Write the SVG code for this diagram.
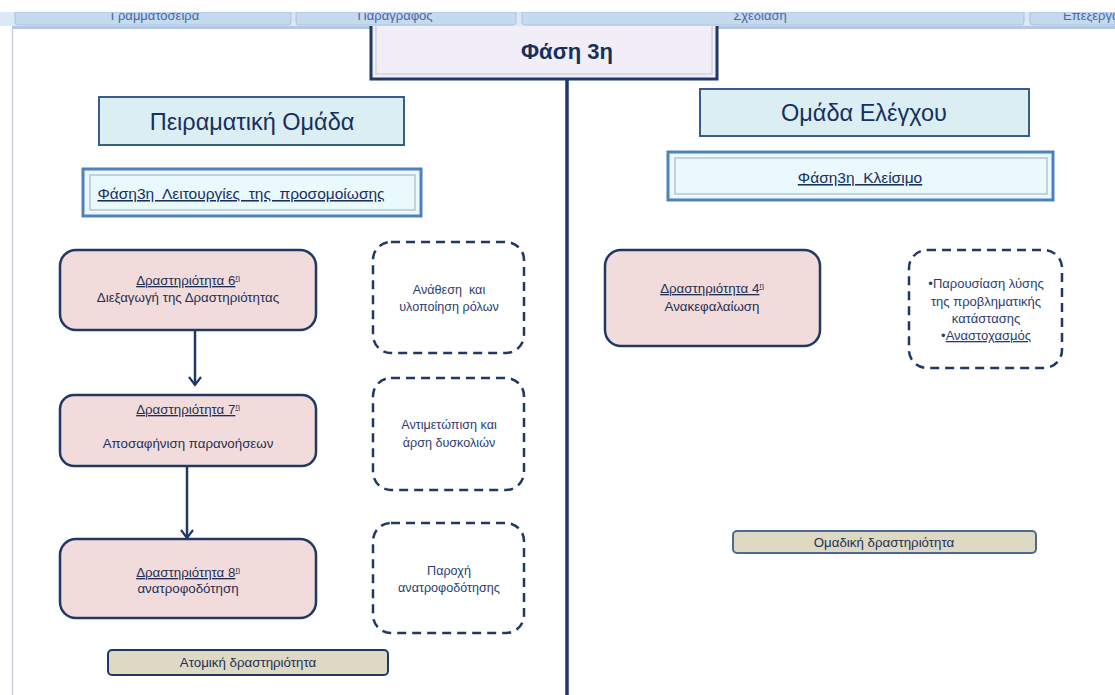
<svg xmlns="http://www.w3.org/2000/svg" width="1115" height="695" viewBox="0 0 1115 695">
<style>
text{font-family:"Liberation Sans","Noto Sans",sans-serif;text-anchor:middle;white-space:pre}
.tb{fill:#c5d9ef;stroke:#a9c2e0;stroke-width:1}
.tbt{font-size:13px;fill:#4a66a6}
.hdr{fill:#dbeef4;stroke:#385d8a;stroke-width:2}
.hdrt{font-size:23.5px;fill:#17305e}
.sub{fill:#eaf9fd;stroke:#4f81bd;stroke-width:3}
.subin{fill:none;stroke:#b8c4cc;stroke-width:1.5}
.subt{font-size:15.5px;fill:#17305e;text-decoration:underline}
.act{fill:#f2dcdb;stroke:#1f3864;stroke-width:2.5}
.actt{font-size:13.3px;fill:#1f2f55}
.u{text-decoration:underline}
.dash{fill:#fff;stroke:#1f3864;stroke-width:2.5;stroke-dasharray:9 6}
.dt{font-size:12.6px;fill:#2b3d70}
.lab{fill:#ddd9c3;stroke:#1f3864;stroke-width:2}
.labt{font-size:13.3px;fill:#1f2f55}
.conn{stroke:#1f3864;stroke-width:2.5;fill:none}
</style>
<defs>
<marker id="arr" markerWidth="12" markerHeight="14" refX="10" refY="7" orient="auto" markerUnits="userSpaceOnUse" viewBox="0 0 12 14">
<path d="M2,1 L10,7 L2,13" fill="none" stroke="#1f3864" stroke-width="2.2"/>
</marker>
<clipPath id="tbclip"><rect x="0" y="13" width="1115" height="12"/></clipPath>
</defs>
<rect width="1115" height="695" fill="#fff"/>
<line x1="12.5" y1="29" x2="12.5" y2="695" stroke="#c8cdd6" stroke-width="1.5"/>
<rect x="12" y="26" width="1103" height="3" fill="#b5c8e0"/>

<g id="title">
<rect x="371" y="20" width="346" height="59" fill="#f2eef8" stroke="#1f3864" stroke-width="3"/>
<rect x="376" y="24" width="336" height="50" fill="none" stroke="#d4d0e2" stroke-width="1.5"/>
<text x="567" y="59" style="font-size:22px;font-weight:bold;fill:#17305e">Φάση 3η</text>
</g>

<g id="toolbar">
<rect x="0" y="12" width="1115" height="14" fill="#dce8f5"/>
<path class="tb" d="M15,12 V22 Q15,25 18,25 H288 Q291,25 291,22 V12 Z"/>
<path class="tb" d="M296,12 V22 Q296,25 299,25 H513 Q516,25 516,22 V12 Z"/>
<path class="tb" d="M522,12 V22 Q522,25 525,25 H1021 Q1024,25 1024,22 V12 Z"/>
<path class="tb" d="M1030,12 V22 Q1030,25 1033,25 H1115 V12 Z"/>
<g clip-path="url(#tbclip)">
<text class="tbt" x="155" y="19.5">Γραμματοσειρά</text>
<text class="tbt" x="395" y="19.5">Παράγραφος</text>
<text class="tbt" x="760" y="19.5">Σχεδίαση</text>
<text class="tbt" x="1063" y="19.5" style="text-anchor:start">Επεξεργασία</text>
</g>
<rect x="0" y="0" width="1115" height="12" fill="#fff"/>
</g>

<g id="connectors">
<line class="conn" x1="567" y1="80" x2="567" y2="695" style="stroke-width:3.5"/>
<line class="conn" x1="195" y1="331" x2="195" y2="385" marker-end="url(#arr)"/>
<line class="conn" x1="187" y1="467" x2="187" y2="538" marker-end="url(#arr)"/>
</g>

<g id="group-exp">
<rect class="hdr" x="99" y="97" width="305" height="48"/>
<text class="hdrt" x="252" y="130">Πειραματική Ομάδα</text>
</g>
<g id="group-ctrl">
<rect class="hdr" x="700" y="89" width="329" height="47"/>
<text class="hdrt" x="864" y="121">Ομάδα Ελέγχου</text>
</g>

<g id="phase-left">
<rect class="sub" x="83" y="169" width="338" height="47"/>
<rect class="subin" x="90" y="175" width="325" height="35"/>
<text class="subt" x="241" y="199" xml:space="preserve">Φάση3η  Λειτουργίες  της  προσομοίωσης</text>
</g>
<g id="phase-right">
<rect class="sub" x="668" y="152" width="385" height="48"/>
<rect class="subin" x="675" y="158" width="372" height="36"/>
<text class="subt" x="860" y="183" xml:space="preserve">Φάση3η  Κλείσιμο</text>
</g>

<g id="act6">
<rect class="act" x="60" y="250" width="256" height="80" rx="16"/>
<text class="actt" x="188" y="285"><tspan class="u">Δραστηριότητα 6<tspan font-size="8" dy="-5">η</tspan></tspan></text>
<text class="actt" x="188" y="302">Διεξαγωγή της Δραστηριότητας</text>
</g>
<g id="act7">
<rect class="act" x="60" y="395" width="256" height="71" rx="14"/>
<text class="actt" x="188" y="414"><tspan class="u">Δραστηριότητα 7<tspan font-size="8" dy="-5">η</tspan></tspan></text>
<text class="actt" x="188" y="448">Αποσαφήνιση παρανοήσεων</text>
</g>
<g id="act8">
<rect class="act" x="60" y="539" width="256" height="79" rx="16"/>
<text class="actt" x="188" y="577"><tspan class="u">Δραστηριότητα 8<tspan font-size="8" dy="-5">η</tspan></tspan></text>
<text class="actt" x="188" y="593">ανατροφοδότηση</text>
</g>

<g id="note1">
<rect class="dash" x="373" y="242" width="151" height="111" rx="18"/>
<text class="dt" x="449" y="294" xml:space="preserve">Ανάθεση  και</text>
<text class="dt" x="449" y="311">υλοποίηση ρόλων</text>
</g>
<g id="note2">
<rect class="dash" x="373" y="378" width="151" height="112" rx="18"/>
<text class="dt" x="449" y="429">Αντιμετώπιση και</text>
<text class="dt" x="449" y="447">άρση δυσκολιών</text>
</g>
<g id="note3">
<rect class="dash" x="373" y="523" width="151" height="110" rx="18"/>
<text class="dt" x="449" y="575">Παροχή</text>
<text class="dt" x="449" y="592">ανατροφοδότησης</text>
</g>

<g id="label-ind">
<rect class="lab" x="108" y="650" width="280" height="25" rx="4"/>
<text class="labt" x="248" y="667">Ατομική δραστηριότητα</text>
</g>

<g id="act4">
<rect class="act" x="605" y="250" width="215" height="96" rx="16"/>
<text class="actt" x="712" y="293"><tspan class="u">Δραστηριότητα 4<tspan font-size="8" dy="-5">η</tspan></tspan></text>
<text class="actt" x="712" y="311">Ανακεφαλαίωση</text>
</g>

<g id="note4">
<rect class="dash" x="909" y="250" width="153" height="118" rx="18"/>
<text class="dt" x="986" y="288" style="font-size:13px">•Παρουσίαση λύσης</text>
<text class="dt" x="986" y="306" style="font-size:13px">της προβληματικής</text>
<text class="dt" x="986" y="323" style="font-size:13px">κατάστασης</text>
<text class="dt" x="986" y="340" style="font-size:13px">•<tspan style="text-decoration:underline wavy #e03030">Αναστοχασμός</tspan></text>
</g>

<g id="label-grp">
<rect class="lab" x="733" y="531" width="303" height="22" rx="4" style="stroke:#4a6a9c"/>
<text class="labt" x="884" y="547">Ομαδική δραστηριότητα</text>
</g>
</svg>
